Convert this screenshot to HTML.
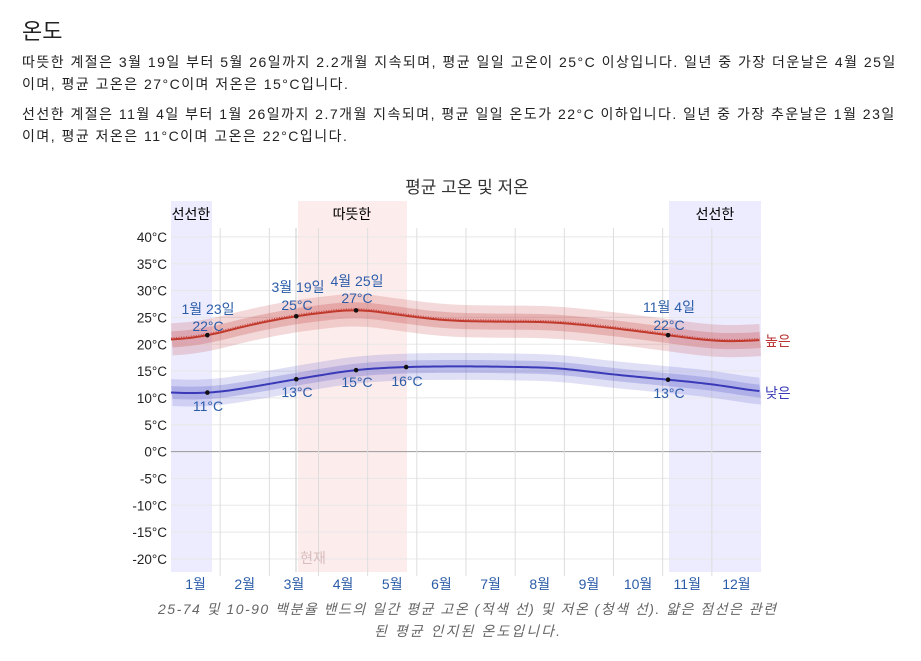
<!DOCTYPE html>
<html><head><meta charset="utf-8">
<style>
body{margin:0;background:#fff;width:921px;height:661px;overflow:hidden;font-family:"Liberation Sans","Noto Sans CJK KR",sans-serif;color:#222}
h2{position:absolute;left:22px;top:14px;margin:0;font-weight:normal;font-size:22px}
p{position:absolute;left:22px;margin:0;font-size:14px;line-height:22px;width:900px;white-space:nowrap;letter-spacing:1.48px}
svg{position:absolute;left:0;top:0}
</style></head><body>
<h2>온도</h2>
<p style="top:51px">따뜻한 계절은 3월 19일 부터 5월 26일까지 2.2개월 지속되며, 평균 일일 고온이 25°C 이상입니다. 일년 중 가장 더운날은 4월 25일<br>이며, 평균 고온은 27°C이며 저온은 15°C입니다.</p>
<p style="top:103px">선선한 계절은 11월 4일 부터 1월 26일까지 2.7개월 지속되며, 평균 일일 온도가 22°C 이하입니다. 일년 중 가장 추운날은 1월 23일<br>이며, 평균 저온은 11°C이며 고온은 22°C입니다.</p>
<svg id="s" width="921" height="661" font-family="Liberation Sans, Noto Sans CJK KR, sans-serif"></svg>
<script>
var s=document.getElementById('s');var h='';
var X0=171,X1=761,W=590;
function x(d){return X0+(d-0.5)/365*W}
function y(t){return 451.6-t*5.367}
h+='<text x="467" y="193" font-size="17" text-anchor="middle" fill="#333">평균 고온 및 저온</text>';
h+='<rect x="171" y="201" width="41" height="371" fill="#ececfe"/>';
h+='<rect x="669" y="201" width="92" height="371" fill="#ececfe"/>';
h+='<rect x="298" y="201" width="109" height="371" fill="#fdecec"/>';
h+='<text x="191" y="219" font-size="14" text-anchor="middle">선선한</text>';
h+='<text x="352" y="219" font-size="14" text-anchor="middle">따뜻한</text>';
h+='<text x="715" y="219" font-size="14" text-anchor="middle">선선한</text>';
for(var t=40;t>=-20;t-=5){var yy=y(t);h+='<line x1="171" x2="761" y1="'+yy+'" y2="'+yy+'" stroke="'+(t==0?'#999':'#e8e8e8')+'" stroke-width="1"/>';
h+='<text x="167" y="'+(yy+5)+'" font-size="13.5" text-anchor="end" fill="#222">'+t+'°C</text>';}
var mn=['1월','2월','3월','4월','5월','6월','7월','8월','9월','10월','11월','12월'];
for(var i=0;i<12;i++){var gx=X0+W/12*(i+1);if(i<11)h+='<line x1="'+gx+'" x2="'+gx+'" y1="228" y2="576" stroke="#ddd"/>';
h+='<text x="'+(X0+W/12*(i+0.5))+'" y="589" font-size="14" text-anchor="middle" fill="#2b5ca8">'+mn[i]+'</text>';}
h+='<line x1="296" x2="296" y1="228" y2="572" stroke="#ccc"/>';
h+='<text x="313" y="563" font-size="14" text-anchor="middle" fill="#d8bcbc">현재</text>';
var hi=[[-20,20.6],[0,20.8],[23,21.5],[46,23.4],[78,25.3],[115,26.6],[146,25.3],[170,24.4],[200,24.2],[230,24.2],[250,23.8],[280,22.8],[308,21.7],[335,20.6],[350,20.5],[366,20.8],[390,21.3]];
var lo=[[-20,11.2],[0,11],[23,10.8],[46,11.8],[78,13.5],[115,15.3],[146,15.8],[180,15.9],[210,15.8],[240,15.6],[270,14.5],[290,13.9],[308,13.4],[335,12.6],[366,11.1],[390,10.8]];
function lin(a,d){for(var i=0;i<a.length-1;i++){if(d<=a[i+1][0]){var f=(d-a[i][0])/(a[i+1][0]-a[i][0]);return a[i][1]+f*(a[i+1][1]-a[i][1]);}}return a[a.length-1][1]}
function interp(a,d){var s=0,n=0;for(var k=-14;k<=14;k+=2){s+=lin(a,d+k);n++;}return s/n;}
function band(a,dl,du,c){var p='M';for(var d=0.5;d<=365.5;d+=2){p+=Math.max(X0,Math.min(X1,x(d)))+','+y(interp(a,d)+du)+' L';}
for(var d=365.5;d>=0.5;d-=2){p+=Math.max(X0,Math.min(X1,x(d)))+','+y(interp(a,d)-dl)+' L';}p=p.slice(0,-2)+'Z';return '<path d="'+p+'" fill="'+c+'"/>';}
function line(a,c,off,dash,w){var p='M';for(var d=0.5;d<=365.5;d+=2){p+=Math.max(X0,Math.min(X1,x(d)))+','+y(interp(a,d)+off)+' L';}p=p.slice(0,-2);return '<path d="'+p+'" fill="none" stroke="'+c+'" stroke-width="'+w+'"'+(dash?' stroke-dasharray="1,1.5"':'')+'/>';}
h+=band(hi,3,3,'rgba(200,80,80,0.22)')+band(hi,1.5,1.5,'rgba(200,80,80,0.28)');
h+=band(lo,2.5,2.5,'rgba(80,80,200,0.18)')+band(lo,1.2,1.2,'rgba(80,80,200,0.24)');
h+=line(hi,'#c44',0.3,true,1)+line(hi,'#c0392b',0,false,2)+line(lo,'#3a3ab8',0,false,2);
var pts=[[23,hi],[78,hi],[115,hi],[308,hi],[23,lo],[78,lo],[115,lo],[146,lo],[308,lo]];
pts.forEach(function(q){h+='<circle cx="'+x(q[0])+'" cy="'+y(interp(q[1],q[0]))+'" r="2.3" fill="#111"/>';});
var lab=[[208,314,'1월 23일'],[208,331,'22°C'],[298,292,'3월 19일'],[297,310,'25°C'],[357,286,'4월 25일'],[357,303,'27°C'],[669,312,'11월 4일'],[669,330,'22°C'],
[208,411,'11°C'],[297,397,'13°C'],[357,387,'15°C'],[407,386,'16°C'],[669,398,'13°C']];
lab.forEach(function(q){h+='<text x="'+q[0]+'" y="'+q[1]+'" font-size="14" text-anchor="middle" fill="#2b5ca8">'+q[2]+'</text>';});
h+='<text x="765" y="346" font-size="14" fill="#b33">높은</text>';
h+='<text x="765" y="398" font-size="14" fill="#3a3ab8">낮은</text>';
h+='<text x="467" y="614" font-size="14" font-style="italic" text-anchor="middle" fill="#666" textLength="618">25-74 및 10-90 백분율 밴드의 일간 평균 고온 (적색 선) 및 저온 (청색 선). 얇은 점선은 관련</text>';
h+='<text x="467" y="636" font-size="14" font-style="italic" text-anchor="middle" fill="#666" textLength="186">된 평균 인지된 온도입니다.</text>';
s.innerHTML=h;
</script>
</body></html>
